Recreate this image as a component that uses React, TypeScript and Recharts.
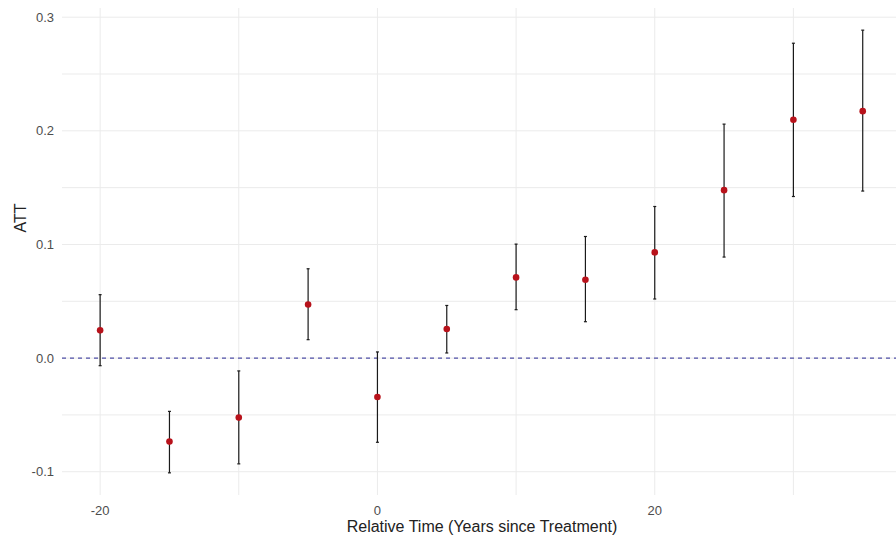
import React from 'react';
import { ScatterChart, Scatter, XAxis, YAxis, CartesianGrid, ErrorBar, ReferenceLine } from 'recharts';

// event-study estimates by relative year
const relTime = [-20, -15, -10, -5, 0, 5, 10, 15, 20, 25, 30, 35];
const att = [0.0244, -0.0735, -0.0524, 0.0472, -0.0342, 0.0256, 0.071, 0.069, 0.093, 0.1478, 0.2097, 0.2173];
const ciLow = [-0.0067, -0.101, -0.0931, 0.0162, -0.0741, 0.0045, 0.0426, 0.032, 0.052, 0.0889, 0.1422, 0.147];
const ciHigh = [0.0558, -0.0469, -0.0113, 0.0786, 0.0054, 0.0463, 0.1003, 0.107, 0.1334, 0.2059, 0.2771, 0.2886];

const xTicks = [-20, 0, 20];
const yTicks = [-0.1, 0, 0.1, 0.2, 0.3];
const xGrid = [-20, -10, 0, 10, 20, 30];
const yGrid = [-0.1, -0.05, 0, 0.05, 0.1, 0.15, 0.2, 0.25, 0.3];

const FONT = '"Liberation Sans", Arial, sans-serif';
const TICK = '#4D4D4D';
const POINT = '#B8121B';

const data = relTime.map((t, i) => ({
    t,
    att: att[i],
    // ErrorBar wants [below, above] offsets from the estimate
    ci: [att[i] - ciLow[i], ciHigh[i] - att[i]],
}));

const Dot = (props: any) => <circle cx={props.cx} cy={props.cy} r={3.3} fill={POINT} />;

export default function App() {
    return (
        <div style={{ position: 'absolute', left: 0, top: 0, width: 896, height: 538, overflow: 'hidden', background: '#fff' }}>
            <ScatterChart width={896} height={538} margin={{ top: 8, right: 0, bottom: 0, left: 0 }}>
                <CartesianGrid stroke="#EBEBEB" strokeWidth={1} horizontalValues={yGrid} verticalValues={xGrid} />
                <XAxis
                    type="number"
                    dataKey="t"
                    domain={[-22.75, 37.4]}
                    allowDataOverflow
                    ticks={xTicks}
                    interval={0}
                    axisLine={false}
                    tickLine={false}
                    tickSize={0}
                    tickMargin={11}
                    height={43}
                    tick={{ fill: TICK, fontSize: 13, fontFamily: FONT }}
                    label={{
                        content: () => (
                            <text x={482} y={532} textAnchor="middle" fill="#222" fontSize={16} fontFamily={FONT}>
                                Relative Time (Years since Treatment)
                            </text>
                        ),
                    }}
                />
                <YAxis
                    type="number"
                    dataKey="att"
                    domain={[-0.1205, 0.3081]}
                    allowDataOverflow
                    ticks={yTicks}
                    interval={0}
                    axisLine={false}
                    tickLine={false}
                    tickSize={0}
                    tickMargin={8}
                    width={62}
                    tickFormatter={(v: number) => v.toFixed(1)}
                    tick={{ fill: TICK, fontSize: 13, fontFamily: FONT }}
                    label={{
                        content: () => (
                            <text x={26} y={218} transform="rotate(-90 26 218)" textAnchor="middle" fill="#222" fontSize={16} fontFamily={FONT}>
                                ATT
                            </text>
                        ),
                    }}
                />
                <ReferenceLine y={0} stroke="#5050A8" strokeWidth={1.3} strokeDasharray="4 4" />
                <Scatter data={data} shape={Dot} isAnimationActive={false}>
                    <ErrorBar dataKey="ci" direction="y" width={1.5} stroke="#1A1A1A" strokeWidth={1.2} />
                </Scatter>
            </ScatterChart>
        </div>
    );
}
